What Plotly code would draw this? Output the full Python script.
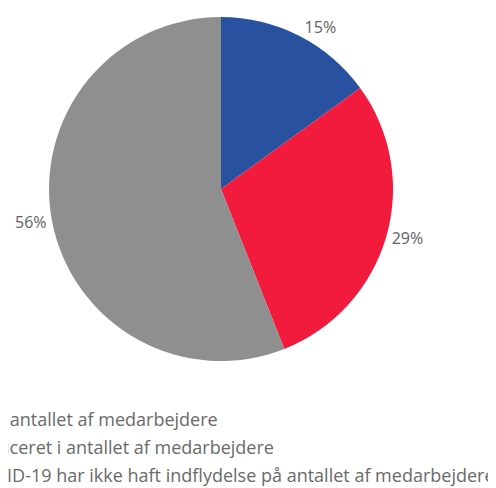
import plotly.graph_objects as go

labels = [
    "Vi har øget antallet af medarbejdere",
    "Vi har reduceret i antallet af medarbejdere",
    "COVID-19 har ikke haft indflydelse på antallet af medarbejdere",
]
values = [15, 29, 56]
colors = ["#2852A0", "#F21B3D", "#8F8F8F"]

# page body has an 8px margin, so the figure is drawn 8px in from the window edge
W, H = 488, 480
margin = dict(l=41, r=103, t=9, b=127)
plot_w = W - margin["l"] - margin["r"]
plot_h = H - margin["t"] - margin["b"]

fig = go.Figure()
fig.add_trace(go.Pie(
    labels=labels,
    values=values,
    sort=False,
    direction="clockwise",
    rotation=0,
    marker=dict(colors=colors, line=dict(width=0)),
    textinfo="percent",
    textposition="outside",
    outsidetextfont=dict(family="Open Sans", size=16, color="#5F5F5F"),
    showlegend=False,
))

# legend lines (the left part runs off the picture, as in the reference)
line_ends = [212, 268, 489]
line_mid_y = [411, 439, 467]
for lab, xe, ym in zip(labels, line_ends, line_mid_y):
    fig.add_annotation(
        text=lab,
        xref="paper", yref="paper",
        x=(xe - margin["l"]) / plot_w,
        y=(H - margin["b"] - ym) / plot_h,
        xanchor="right", yanchor="middle",
        showarrow=False,
        font=dict(family="Open Sans", size=18, color="#6A6A6A"),
    )

fig.update_layout(
    width=W, height=H,
    margin=margin,
    paper_bgcolor="white",
    plot_bgcolor="white",
    font=dict(family="Open Sans", color="#5F5F5F"),
)

fig.write_html("out.html")
